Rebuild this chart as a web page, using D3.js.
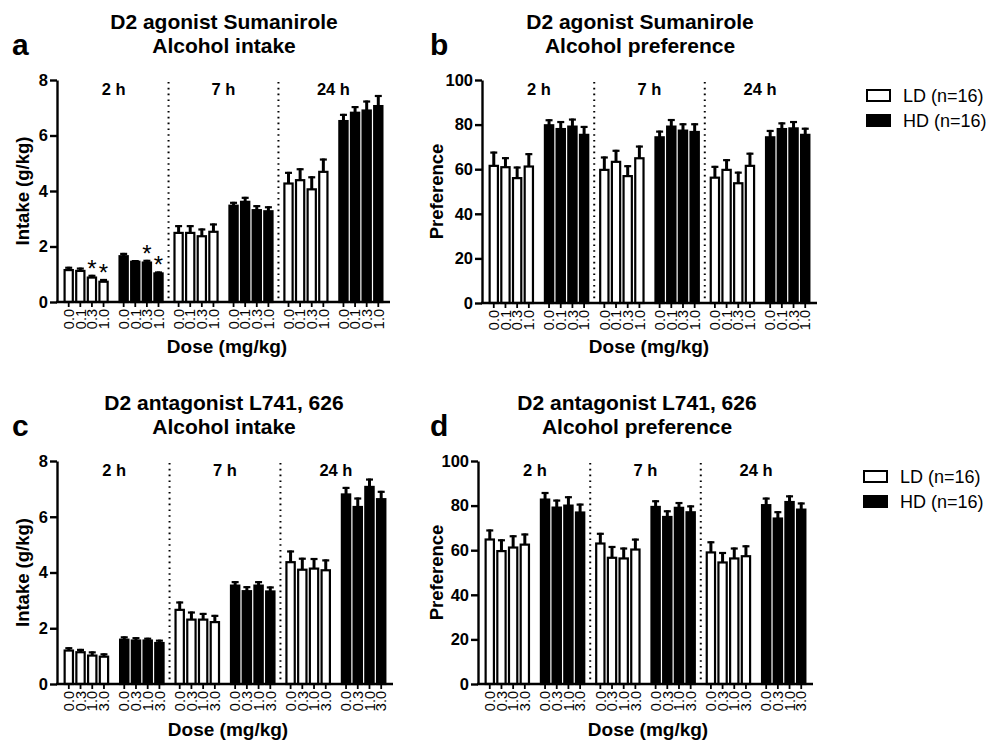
<!DOCTYPE html>
<html>
<head>
<meta charset="utf-8">
<script src="https://cdn.jsdelivr.net/npm/d3@7"></script>
<style>
  html, body { margin: 0; padding: 0; background: #fff; }
  svg { display: block; font-family: "Liberation Sans", Arial, Helvetica, sans-serif; }
</style>
</head>
<body>
<svg id="chart" width="987" height="741"></svg>
<script>
// ---------------- DATA ----------------
const timeLabels = ["2 h", "7 h", "24 h"];
const groupNames = ["LD (n=16)", "HD (n=16)"];
const dosesAgonist = ["0.0", "0.1", "0.3", "1.0"];
const dosesAntagonist = ["0.0", "0.3", "1.0", "3.0"];
const intakeTicks = [0, 2, 4, 6, 8];
const prefTicks = [0, 20, 40, 60, 80, 100];

// values ordered 2 h (4 doses), 7 h (4 doses), 24 h (4 doses)
const agoIntakeLD    = [1.15, 1.12, 0.88, 0.73, 2.49, 2.49, 2.37, 2.53, 4.27, 4.39, 4.06, 4.69];
const agoIntakeLDErr = [0.12, 0.12, 0.10, 0.10, 0.28, 0.28, 0.28, 0.30, 0.42, 0.43, 0.47, 0.48];
const agoIntakeHD    = [1.65, 1.45, 1.42, 1.03, 3.47, 3.61, 3.31, 3.27, 6.52, 6.82, 6.90, 7.06];
const agoIntakeHDErr = [0.12, 0.06, 0.10, 0.07, 0.14, 0.18, 0.18, 0.18, 0.26, 0.24, 0.36, 0.40];
const agoIntakeLDStar = [0, 0, 1, 1, 0, 0, 0, 0, 0, 0, 0, 0];
const agoIntakeHDStar = [0, 0, 1, 1, 0, 0, 0, 0, 0, 0, 0, 0];

const agoPrefLD    = [61.5, 60.9, 56.0, 61.2, 59.7, 63.3, 56.9, 64.9, 56.2, 59.7, 53.7, 61.5];
const agoPrefLDErr = [6.4, 4.5, 5.2, 6.0, 6.0, 5.4, 4.9, 5.7, 5.3, 4.8, 5.2, 5.9];
const agoPrefHD    = [79.7, 78.0, 79.1, 75.4, 74.3, 79.1, 77.3, 76.7, 74.3, 78.0, 78.3, 75.4];
const agoPrefHDErr = [2.7, 3.6, 3.6, 4.0, 3.0, 3.4, 3.3, 3.9, 3.3, 3.0, 3.3, 3.2];

const antIntakeLD    = [1.20, 1.14, 1.02, 0.98, 2.66, 2.31, 2.31, 2.22, 4.37, 4.10, 4.14, 4.08];
const antIntakeLDErr = [0.12, 0.12, 0.15, 0.12, 0.30, 0.29, 0.24, 0.26, 0.42, 0.43, 0.38, 0.39];
const antIntakeHD    = [1.59, 1.56, 1.56, 1.47, 3.53, 3.33, 3.53, 3.32, 6.80, 6.35, 7.07, 6.63];
const antIntakeHDErr = [0.12, 0.12, 0.10, 0.12, 0.16, 0.18, 0.16, 0.18, 0.27, 0.34, 0.30, 0.30];

const antPrefLD    = [64.8, 59.6, 61.2, 62.5, 63.0, 56.6, 56.3, 60.3, 59.0, 54.5, 56.3, 57.3];
const antPrefLDErr = [4.5, 5.3, 5.5, 5.0, 4.8, 5.3, 4.9, 4.9, 5.0, 4.7, 4.9, 4.9];
const antPrefHD    = [82.7, 79.1, 80.0, 76.9, 79.4, 74.9, 79.0, 77.0, 80.2, 74.2, 81.6, 78.2];
const antPrefHDErr = [3.4, 3.6, 4.2, 4.0, 3.0, 3.0, 2.6, 3.1, 3.4, 3.3, 3.0, 3.2];

// ---------------- DRAWING ----------------
const svg = d3.select("#chart");

const panels = [
  { letter: "a", title: ["D2 agonist Sumanirole", "Alcohol intake"], doses: dosesAgonist,
    ld: agoIntakeLD, ldErr: agoIntakeLDErr, hd: agoIntakeHD, hdErr: agoIntakeHDErr,
    ldStar: agoIntakeLDStar, hdStar: agoIntakeHDStar,
    ticks: intakeTicks, yLabel: "Intake (g/kg)",
    ax: 57, axEnd: 390, yTop: 80, yBot: 302, titleX: 224, titleY: 29, letterX: 12, yLabX: 29, doseX: 227, doseY: 353 },
  { letter: "b", title: ["D2 agonist Sumanirole", "Alcohol preference"], doses: dosesAgonist,
    ld: agoPrefLD, ldErr: agoPrefLDErr, hd: agoPrefHD, hdErr: agoPrefHDErr,
    ticks: prefTicks, yLabel: "Preference",
    ax: 482, axEnd: 817, yTop: 80, yBot: 303, titleX: 640, titleY: 29, letterX: 430, yLabX: 443, doseX: 649, doseY: 353 },
  { letter: "c", title: ["D2 antagonist L741, 626", "Alcohol intake"], doses: dosesAntagonist,
    ld: antIntakeLD, ldErr: antIntakeLDErr, hd: antIntakeHD, hdErr: antIntakeHDErr,
    ticks: intakeTicks, yLabel: "Intake (g/kg)",
    ax: 57, axEnd: 393, yTop: 461, yBot: 684, titleX: 224, titleY: 410, letterX: 12, yLabX: 29, doseX: 228, doseY: 736 },
  { letter: "d", title: ["D2 antagonist L741, 626", "Alcohol preference"], doses: dosesAntagonist,
    ld: antPrefLD, ldErr: antPrefLDErr, hd: antPrefHD, hdErr: antPrefHDErr,
    ticks: prefTicks, yLabel: "Preference",
    ax: 478, axEnd: 813, yTop: 461, yBot: 684, titleX: 637, titleY: 410, letterX: 430, yLabX: 443, doseX: 648, doseY: 736 }
];

panels.forEach(p => drawPanel(p));

function drawPanel(p) {
  const g = svg.append("g");
  const yMax = p.ticks[p.ticks.length - 1];
  const y = d3.scaleLinear().domain([0, yMax]).range([p.yBot, p.yTop]);

  const groupIdx = d3.range(6);
  const x0 = d3.scaleBand().domain(groupIdx).range([p.ax, p.axEnd]).paddingInner(0.18).paddingOuter(0.12);
  const x1 = d3.scaleBand().domain(p.doses).range([0, x0.bandwidth()]).paddingInner(0.12);

  const rows = [];
  for (let t = 0; t < 3; t++) {
    [0, 1].forEach(grp => {
      p.doses.forEach((dose, k) => {
        const i = t * 4 + k;
        rows.push({
          group: t * 2 + grp, dose, hd: grp === 1,
          v: grp ? p.hd[i] : p.ld[i],
          e: grp ? p.hdErr[i] : p.ldErr[i],
          star: grp ? (p.hdStar ? p.hdStar[i] : 0) : (p.ldStar ? p.ldStar[i] : 0)
        });
      });
    });
  }
  const cx = d => x0(d.group) + x1(d.dose) + x1.bandwidth() / 2;

  // dotted separators
  [1, 3].forEach(gi => {
    const xs = (x0(gi) + x0.bandwidth() + x0(gi + 1)) / 2;
    g.append("line").attr("x1", xs).attr("x2", xs)
      .attr("y1", y(yMax) + 2).attr("y2", y(0) - 2)
      .attr("stroke", "#000").attr("stroke-width", 2)
      .attr("stroke-dasharray", "1.6,4.2");
  });

  // bars
  g.append("g").selectAll("rect").data(rows).join("rect")
    .attr("x", d => x0(d.group) + x1(d.dose) + 1)
    .attr("width", x1.bandwidth() - 2)
    .attr("y", d => y(d.v))
    .attr("height", d => y(0) - y(d.v))
    .attr("fill", d => d.hd ? "#000" : "#fff")
    .attr("stroke", "#000").attr("stroke-width", 2.2);

  // error bars (upper only)
  const eb = g.append("g").attr("stroke", "#000");
  eb.selectAll("line.v").data(rows).join("line").attr("class", "v")
    .attr("x1", cx).attr("x2", cx)
    .attr("y1", d => y(d.v))
    .attr("y2", d => y(d.v + d.e))
    .attr("stroke-width", 3);
  eb.selectAll("line.c").data(rows).join("line").attr("class", "c")
    .attr("x1", d => cx(d) - 3.5).attr("x2", d => cx(d) + 3.5)
    .attr("y1", d => y(d.v + d.e) + 1)
    .attr("y2", d => y(d.v + d.e) + 1)
    .attr("stroke-width", 2.2);

  // significance stars
  g.append("g").selectAll("text").data(rows.filter(d => d.star)).join("text")
    .attr("x", cx)
    .attr("y", d => y(d.v + d.e) + 2)
    .attr("text-anchor", "middle")
    .attr("font-size", 24).attr("fill", "#000").text("*");

  // y axis
  const yAxis = g.append("g").attr("transform", `translate(${p.ax},0)`)
    .call(d3.axisLeft(y).tickValues(p.ticks).tickSize(7).tickSizeOuter(0).tickPadding(2));
  yAxis.select(".domain").attr("stroke-width", 2.4);
  yAxis.selectAll(".tick line").attr("stroke-width", 2.4);
  yAxis.selectAll(".tick text").attr("font-size", 16.5).attr("font-weight", "bold")
    .attr("font-family", "Liberation Sans, Arial, sans-serif").attr("fill", "#000");

  // x axes per group
  groupIdx.forEach(gi => {
    const xa = g.append("g").attr("transform", `translate(${x0(gi)},${p.yBot})`)
      .call(d3.axisBottom(x1).tickSize(5).tickSizeOuter(0));
    xa.select(".domain").remove();
    xa.selectAll(".tick line").attr("stroke-width", 1.8);
    xa.selectAll(".tick text")
      .attr("transform", "rotate(-90)")
      .attr("text-anchor", "end")
      .attr("x", -7).attr("y", 0).attr("dy", "0.36em")
      .attr("font-size", 14.5).attr("font-family", "Liberation Sans, Arial, sans-serif")
      .attr("fill", "#000");
  });
  g.append("line").attr("x1", p.ax - 1).attr("x2", p.axEnd)
    .attr("y1", p.yBot).attr("y2", p.yBot)
    .attr("stroke", "#000").attr("stroke-width", 2.4);

  // time labels
  timeLabels.forEach((t, ti) => {
    const mx = (x0(ti * 2) + x0(ti * 2 + 1) + x0.bandwidth()) / 2;
    g.append("text").attr("x", mx).attr("y", p.yTop + 15)
      .attr("text-anchor", "middle").attr("font-size", 16.5).attr("font-weight", "bold").text(t);
  });

  // titles
  p.title.forEach((line, li) => {
    g.append("text").attr("x", p.titleX).attr("y", p.titleY + li * 24)
      .attr("text-anchor", "middle").attr("font-size", 21).attr("font-weight", "bold").text(line);
  });
  g.append("text").attr("x", p.letterX).attr("y", p.titleY + 26)
    .attr("font-size", 30).attr("font-weight", "bold").text(p.letter);

  // axis titles
  g.append("text").attr("transform", `translate(${p.yLabX},${(p.yTop + p.yBot) / 2}) rotate(-90)`)
    .attr("text-anchor", "middle").attr("font-size", 18.5).attr("font-weight", "bold").text(p.yLabel);
  g.append("text").attr("x", p.doseX).attr("y", p.doseY)
    .attr("text-anchor", "middle").attr("font-size", 19).attr("font-weight", "bold").text("Dose (mg/kg)");
}

// legends
function drawLegend(x, yTopBox) {
  const lg = svg.append("g");
  groupNames.forEach((name, i) => {
    const yy = yTopBox + i * 25;
    lg.append("rect").attr("x", x + 1).attr("y", yy + 1).attr("width", 23).attr("height", 11)
      .attr("fill", i ? "#000" : "#fff").attr("stroke", "#000").attr("stroke-width", 2);
    lg.append("text").attr("x", x + 37).attr("y", yy + 12.5)
      .attr("font-size", 18).text(name);
  });
}
drawLegend(866, 89);
drawLegend(863, 470);
</script>
</body>
</html>
